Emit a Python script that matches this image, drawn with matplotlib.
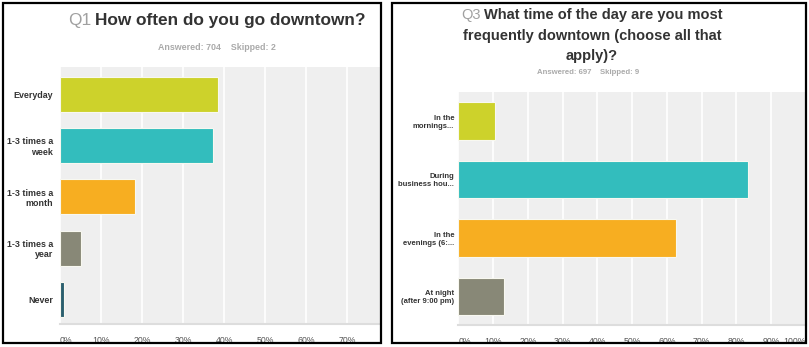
import matplotlib
matplotlib.use("Agg")
import matplotlib.pyplot as plt
from matplotlib.patches import Rectangle

plt.rcParams["font.family"] = ["Liberation Sans", "DejaVu Sans"]

W, H = 809, 347

# Data
q1_categories = ["Everyday", "1-3 times a\nweek", "1-3 times a\nmonth", "1-3 times a\nyear", "Never"]
q1_values = [38.5, 37.2, 18.3, 5.0, 1.0]
q1_colors = ["#cdd22b", "#33bdbd", "#f7ae21", "#888877", "#2b5f6e"]
q1_ticks = [0, 10, 20, 30, 40, 50, 60, 70]

q3_categories = ["In the\nmornings...", "During\nbusiness hou...", "In the\nevenings (6:...", "At night\n(after 9:00 pm)"]
q3_values = [10.6, 83.3, 62.7, 13.1]
q3_colors = ["#cdd22b", "#33bdbd", "#f7ae21", "#888877"]
q3_ticks = [0, 10, 20, 30, 40, 50, 60, 70, 80, 90, 100]

fig = plt.figure(figsize=(W / 100, H / 100), dpi=100)
fig.patch.set_facecolor("white")

def fx(px):
    return px / W

def fy(py):
    return 1 - py / H

# Panel borders
for (x0, y0, x1, y1) in [(3, 3, 381, 343), (392, 3, 806, 343)]:
    fig.patches.append(Rectangle((fx(x0), fy(y1)), fx(x1 - x0), (y1 - y0) / H,
                                 transform=fig.transFigure, fill=False,
                                 edgecolor="black", linewidth=1.6, zorder=10))

def draw(ax, cats, vals, cols, ticks, xmax, ylim, barh, label_size, label_weight, pad):
    ax.set_facecolor("#efefef")
    y = list(range(len(cats)))
    ax.barh(y, vals, height=barh, color=cols, edgecolor="#f8f8f0", linewidth=0.8, zorder=3)
    ax.set_xlim(0, xmax)
    ax.set_ylim(*ylim)
    ax.set_yticks(y)
    ax.set_yticklabels(cats, fontsize=label_size, fontweight=label_weight, color="#333333")
    ax.tick_params(axis="y", length=0, pad=pad)
    ax.set_xticks(ticks)
    labels = ax.set_xticklabels([f"{t}%" for t in ticks], fontsize=6.3, color="#555555")
    labels[0].set_ha("left")
    if ticks[-1] >= xmax:
        labels[-1].set_ha("right")
    ax.tick_params(axis="x", length=0, pad=8.5)
    ax.grid(axis="x", color="white", linewidth=1.2, zorder=1)
    for s in ["top", "right", "left"]:
        ax.spines[s].set_visible(False)
    ax.spines["bottom"].set_color("#dddddd")
    ax.spines["bottom"].set_linewidth(1.5)

ax1 = fig.add_axes([fx(60), fy(324), fx(380 - 60), (324 - 67) / H])
draw(ax1, q1_categories, q1_values, q1_colors, q1_ticks, 78, (4.48, -0.53), 0.68, 6.4, "bold", 5)

ax2 = fig.add_axes([fx(458.3), fy(325), fx(806 - 458.3), (325 - 91.7) / H])
draw(ax2, q3_categories, q3_values, q3_colors, q3_ticks, 99.4, (3.49, -0.5), 0.64, 5.5, "bold", 3)

# Titles: gray "Qn" prefix followed by bold question text, centred as a unit
renderer = fig.canvas.get_renderer()

def title_line(cx, cy, prefix, text, size):
    t1 = fig.text(0, fy(cy), prefix, fontsize=size, color="#a0a0a0", ha="left", va="center")
    t2 = fig.text(0, fy(cy), text, fontsize=size, color="#333333", fontweight="bold",
                  ha="left", va="center")
    w1 = t1.get_window_extent(renderer).width
    w2 = t2.get_window_extent(renderer).width
    gap = size * 0.3
    total = w1 + gap + w2
    x0 = cx - total / 2
    t1.set_x(fx(x0))
    t2.set_x(fx(x0 + w1 + gap))

title_line(217, 20, "Q1", "How often do you go downtown?", 12.4)
fig.text(fx(217), fy(47), "Answered: 704    Skipped: 2", fontsize=6.4, color="#aaaaaa",
         fontweight="bold", ha="center", va="center")

title_line(592, 15, "Q3", "What time of the day are you most", 10.5)
fig.text(fx(592), fy(36), "frequently downtown (choose all that", fontsize=10.5, color="#333333",
         fontweight="bold", ha="center", va="center")
fig.text(fx(592), fy(56), "apply)?", fontsize=10.5, color="#333333",
         fontweight="bold", ha="center", va="center")
fig.text(fx(588), fy(72), "Answered: 697    Skipped: 9", fontsize=5.6, color="#aaaaaa",
         fontweight="bold", ha="center", va="center")

fig.savefig("out.png", dpi=100)
